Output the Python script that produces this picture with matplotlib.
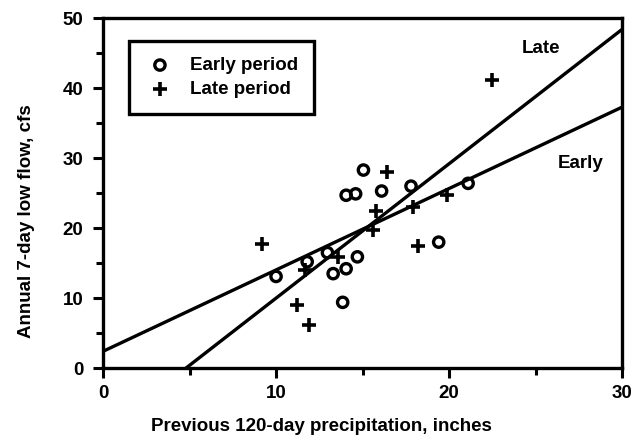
import matplotlib
matplotlib.use("Agg")
import matplotlib.pyplot as plt
import numpy as np
from matplotlib.ticker import MultipleLocator

plt.rcParams['font.family'] = ['Liberation Sans', 'DejaVu Sans']
plt.rcParams['font.weight'] = 'bold'
plt.rcParams['axes.labelweight'] = 'bold'

early_x = [15.05, 14.05, 14.6, 16.1, 17.8, 21.1, 19.4, 10.0, 11.8, 12.97, 13.3, 14.05, 14.7, 13.85]
early_y = [28.3, 24.7, 24.9, 25.3, 26.0, 26.4, 18.0, 13.1, 15.2, 16.5, 13.5, 14.2, 15.9, 9.4]

late_x = [16.4, 9.2, 15.8, 15.6, 17.9, 19.9, 18.2, 11.2, 11.9, 13.6, 11.7, 22.5]
late_y = [28.0, 17.7, 22.4, 19.8, 23.0, 24.7, 17.5, 9.0, 6.1, 15.9, 14.0, 41.1]

# regression lines: (intercept, slope)
early_fit = (2.4, 1.163)
late_fit = (-9.2, 1.92)

FS = 13.5

fig = plt.figure(figsize=(6.44, 4.43), dpi=100)
ax = fig.add_axes([0.160, 0.169, 0.806, 0.790])

xs = np.array([0, 30])
ax.plot(xs, early_fit[0] + early_fit[1] * xs, color='black', lw=2.4, zorder=2)
ax.plot(xs, late_fit[0] + late_fit[1] * xs, color='black', lw=2.4, zorder=2)

ax.scatter(early_x, early_y, marker='o', s=55, facecolors='none', edgecolors='black',
           linewidths=2.4, label='Early period', zorder=3)
ax.scatter(late_x, late_y, marker='+', s=100, color='black', linewidths=2.6,
           label='Late period', zorder=3)

ax.text(25.3, 45.7, 'Late', fontsize=FS, ha='center', va='center')
ax.text(27.6, 29.3, 'Early', fontsize=FS, ha='center', va='center')

ax.set_xlim(0, 30)
ax.set_ylim(0, 50)
ax.xaxis.set_major_locator(MultipleLocator(10))
ax.xaxis.set_minor_locator(MultipleLocator(5))
ax.yaxis.set_major_locator(MultipleLocator(10))
ax.yaxis.set_minor_locator(MultipleLocator(5))
ax.tick_params(which='major', direction='out', length=7, width=2.2, labelsize=FS, pad=5)
ax.tick_params(axis='y', which='major', pad=7)
ax.tick_params(which='minor', direction='out', length=5, width=2.2)
for sp in ax.spines.values():
    sp.set_linewidth(2.4)

ax.set_xlabel('Previous 120-day precipitation, inches', fontsize=FS, labelpad=12)
ax.set_ylabel('Annual 7-day low flow, cfs', fontsize=FS, labelpad=20)
ax.xaxis.label.set_x(0.42)
ax.yaxis.label.set_y(0.42)

leg = ax.legend(loc='upper left', bbox_to_anchor=(0.05, 0.935), fontsize=FS,
                fancybox=False, framealpha=1, edgecolor='black', borderpad=0.85,
                borderaxespad=0, handletextpad=0.8, labelspacing=0.35,
                handlelength=1.6)
leg.get_frame().set_linewidth(2.4)

fig.savefig('out.png', dpi=100)
